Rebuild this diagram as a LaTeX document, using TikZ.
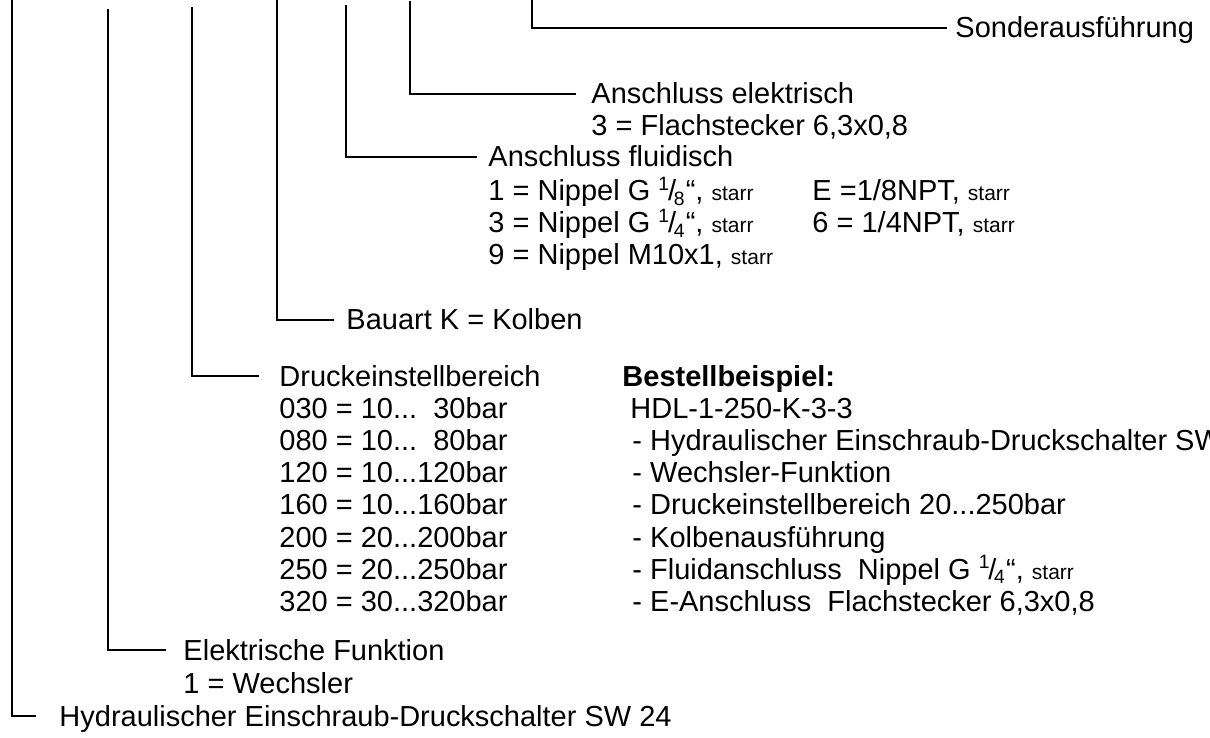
\documentclass[tikz,border=0pt]{standalone}
\usepackage{fontspec}
\setmainfont{Liberation Sans}
\newcommand{\starr}{{\fontsize{8.7}{10}\selectfont starr}}
\newcommand{\bruch}[2]{\textsuperscript{#1}\kern-0.08em/\kern-0.08em\textsubscript{#2}}
\newcommand{\pkt}{...}
\tikzset{
	txt/.style = {anchor = base west, inner sep = 0pt, text height = 8.6pt, text depth = 0.4pt, font = \fontsize{12}{14}\selectfont},
	leg/.style = {line width = 0.6pt}
}
\begin{document}
\begin{tikzpicture}[x = 0.414pt, y = -0.414pt]
	\useasboundingbox (0, 0) rectangle (1210, 738);
	% Texte
	\node [txt] (sonder) at (955, 38) {Sonderausführung};
	\node [txt] (elek) at (591, 104) {Anschluss elektrisch};
	\node [txt] (elek3) at (591, 136) {3 = Flachstecker 6,3x0,8};
	\node [txt] (fluid) at (488, 167) {Anschluss fluidisch};
	\node [txt] (fl1) at (488, 201) {1 = Nippel G \bruch{1}{8}“, \starr};
	\node [txt] (fl3) at (488, 233) {3 = Nippel G \bruch{1}{4}“, \starr};
	\node [txt] (fl9) at (488, 265) {9 = Nippel M10x1, \starr};
	\node [txt] (flE) at (812, 201) {E =1/8NPT, \starr};
	\node [txt] (fl6) at (812, 233) {6 = 1/4NPT, \starr};
	\node [txt] (bauart) at (346, 330) {Bauart K = Kolben};
	\node [txt] (druck) at (279, 386) {Druckeinstellbereich};
	\foreach \code/\range [count = \i from 0] in {030/10\pkt~~30bar, 080/10\pkt~~80bar, 120/10\pkt120bar, 160/10\pkt160bar, 200/20\pkt200bar, 250/20\pkt250bar, 320/30\pkt320bar}
		\node [txt] (dr\i) at (279, 418 + 32.3 * \i) {\code{} = \range};
	\node [txt] (bestell) at (622, 386) {\textbf{Bestellbeispiel:}};
	\node [txt] (hdl) at (630, 418) {HDL-1-250-K-3-3};
	\node [txt] (b1) at (632, 450.3) {- Hydraulischer Einschraub-Druckschalter SW};
	\node [txt] (b2) at (632, 482.6) {- Wechsler-Funktion};
	\node [txt] (b3) at (632, 514.9) {- Druckeinstellbereich 20...250bar};
	\node [txt] (b4) at (632, 547.2) {- Kolbenausführung};
	\node [txt] (b5) at (632, 579.5) {- Fluidanschluss~~Nippel G \bruch{1}{4}“, \starr};
	\node [txt] (b6) at (632, 611.8) {- E-Anschluss~~Flachstecker 6,3x0,8};
	\node [txt] (efunk) at (183, 660) {Elektrische Funktion};
	\node [txt] (wechsler) at (183, 693) {1 = Wechsler};
	\node [txt] (hyd) at (59, 726) {Hydraulischer Einschraub-Druckschalter SW 24};
	% Linien
	\coordinate (t1) at (12, 0);
	\coordinate (t2) at (108, 9);
	\coordinate (t3) at (192, 7);
	\coordinate (t4) at (277, 0);
	\coordinate (t5) at (346, 5);
	\coordinate (t6) at (410, 1);
	\coordinate (t7) at (532, 0);
	\draw [leg, shorten > = 9.5pt] (t1) |- (hyd.west);
	\draw [leg, shorten > = 7pt] (t2) |- (efunk.west);
	\draw [leg, shorten > = 8.3pt] (t3) |- (druck.west);
	\draw [leg, shorten > = 5pt] (t4) |- (bauart.west);
	\draw [leg, shorten > = 4.6pt] (t5) |- (fluid.west);
	\draw [leg, shorten > = 6.2pt] (t6) |- (elek.west);
	\draw [leg, shorten > = 3.3pt] (t7) |- (sonder.west);
\end{tikzpicture}
\end{document}
